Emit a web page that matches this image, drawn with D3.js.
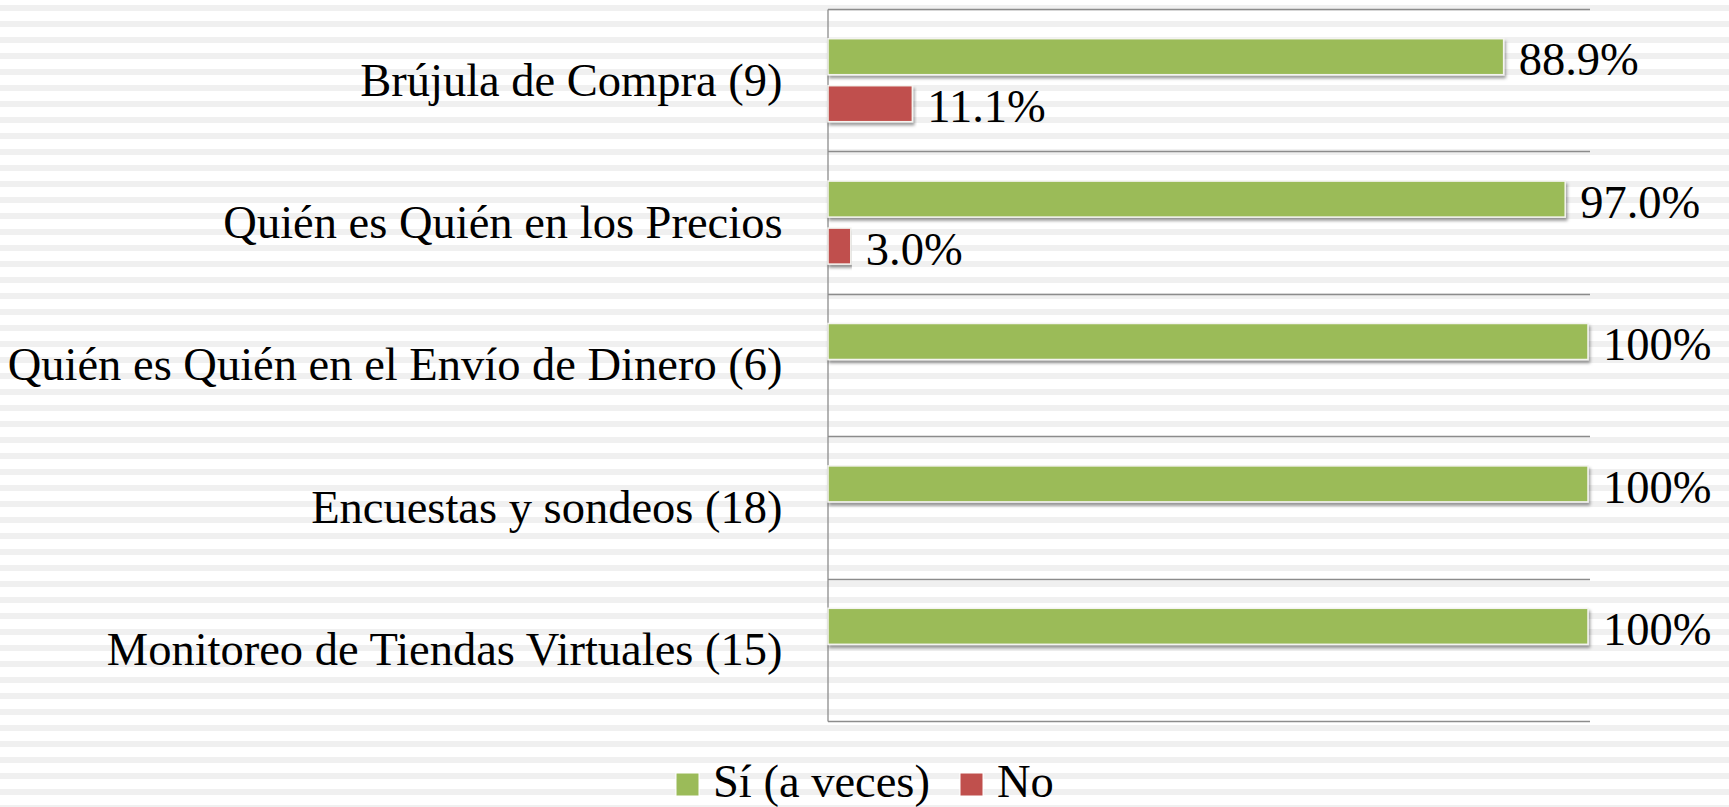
<!DOCTYPE html>
<html>
<head>
<meta charset="utf-8">
<script src="https://cdn.jsdelivr.net/npm/d3@7"></script>
<style>
  html, body { margin: 0; padding: 0; background: #fff; }
  svg { display: block; }
  text { font-family: "Liberation Serif", "DejaVu Serif", serif; fill: #000; }
</style>
</head>
<body>
<div id="chart"></div>
<script>
// datos
var categorias = ["Brújula de Compra (9)", "Quién es Quién en los Precios", "Quién es Quién en el Envío de Dinero (6)", "Encuestas y sondeos (18)", "Monitoreo de Tiendas Virtuales (15)"];
var si = [88.9, 97.0, 100, 100, 100];
var no = [11.1, 3.0, 0, 0, 0];
var series = ["Sí (a veces)", "No"];
var colores = ["#9BBB59", "#C0504D"];

var width = 1729, height = 807;
var fontSize = 46.5;

var svg = d3.select('#chart').append('svg').attr('width', width).attr('height', height);

// fondo rayado
var defs = svg.append('defs');
var pat = defs.append('pattern').attr('id', 'rayas').attr('patternUnits', 'userSpaceOnUse')
  .attr('width', 16).attr('height', 16).attr('y', 5);
pat.append('rect').attr('width', 16).attr('height', 6).attr('fill', '#f0f0f0');
var sombra = defs.append('filter').attr('id', 'sombra').attr('x', '-5%').attr('y', '-30%').attr('width', '110%').attr('height', '170%');
sombra.append('feDropShadow').attr('dx', 1.5).attr('dy', 3).attr('stdDeviation', 1.8)
  .attr('flood-color', '#000').attr('flood-opacity', 0.38);

svg.append('rect').attr('width', width).attr('height', height).attr('fill', '#fff');
svg.append('rect').attr('width', width).attr('height', height).attr('fill', 'url(#rayas)');

var mLeft = 828, mRight = 1588, mTop = 9, mBottom = 721;

var x = d3.scaleLinear().domain([0, 100]).range([mLeft, mRight]);
var y = d3.scaleBand().domain(categorias).range([mTop, mBottom]);
var ySub = d3.scaleBand().domain(series).range([29.7, 112.7]).paddingInner(0.234);

// lineas separadoras de categorias
var sep = d3.range(categorias.length + 1).map(function(i){ return mTop + i * y.step(); });
svg.selectAll('.sep').data(sep).enter().append('line')
  .attr('class', 'sep')
  .attr('x1', mLeft).attr('x2', mRight + 2)
  .attr('y1', function(d){ return Math.round(d) + 0.5; })
  .attr('y2', function(d){ return Math.round(d) + 0.5; })
  .attr('stroke', '#8c8c8c').attr('stroke-width', 1.3);

// eje vertical
var yAxis = d3.axisLeft(y).tickSize(0).tickPadding(45);
var gy = svg.append('g').attr('transform', 'translate(' + (mLeft - 0.5) + ',0)').call(yAxis);
gy.select('.domain').attr('stroke', '#8c8c8c').attr('stroke-width', 1.3);
gy.selectAll('.tick text')
  .style('font-family', '"Liberation Serif", "DejaVu Serif", serif')
  .style('font-size', fontSize + 'px')
  .attr('fill', '#000')
  .attr('dy', '0.33em');

var fmt = function(v){ return v === 100 ? '100%' : v.toFixed(1) + '%'; };

var datos = [];
categorias.forEach(function(c, i){
  datos.push({cat: c, serie: series[0], v: si[i], color: colores[0]});
  datos.push({cat: c, serie: series[1], v: no[i], color: colores[1]});
});
datos = datos.filter(function(d){ return d.v > 0; });

var g = svg.append('g');
g.selectAll('rect.bar').data(datos).enter().append('rect')
  .attr('class', 'bar')
  .attr('x', x(0))
  .attr('y', function(d){ return y(d.cat) + ySub(d.serie); })
  .attr('width', function(d){ return x(d.v) - x(0); })
  .attr('height', ySub.bandwidth())
  .attr('fill', function(d){ return d.color; })
  .attr('stroke', '#f4f4f0').attr('stroke-width', 1.5)
  .attr('filter', 'url(#sombra)');

g.selectAll('text.val').data(datos).enter().append('text')
  .attr('class', 'val')
  .attr('x', function(d){ return x(d.v) + 15; })
  .attr('y', function(d){ return y(d.cat) + ySub(d.serie) + ySub.bandwidth() / 2; })
  .attr('dy', '0.4em')
  .style('font-size', fontSize + 'px')
  .text(function(d){ return fmt(d.v); });

// leyenda
var leg = svg.append('g').attr('transform', 'translate(676,773)');
var legX = [0, 284];
var item = leg.selectAll('g').data(series).enter().append('g')
  .attr('transform', function(d, i){ return 'translate(' + legX[i] + ',0)'; });
item.append('rect').attr('width', 23).attr('height', 23)
  .attr('fill', function(d, i){ return colores[i]; })
  .attr('stroke', '#fff').attr('stroke-width', 1);
item.append('text').attr('x', 37).attr('y', 24)
  .style('font-size', fontSize + 'px')
  .text(function(d){ return d; });
</script>
</body>
</html>
